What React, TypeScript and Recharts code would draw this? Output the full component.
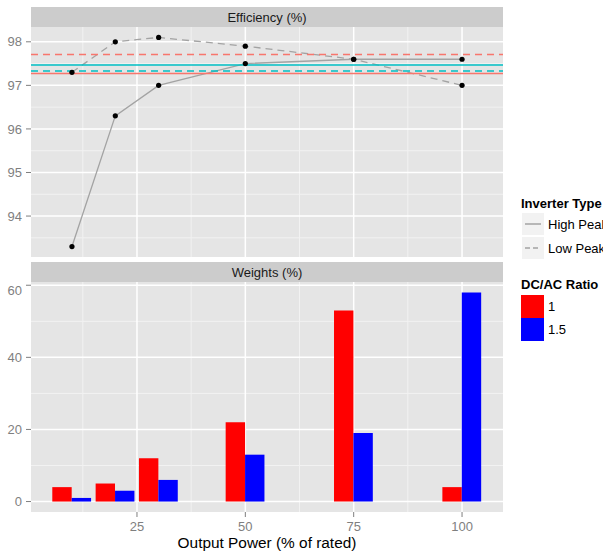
import React from 'react';
import { ComposedChart, Line, Bar, XAxis, YAxis, CartesianGrid, ReferenceLine } from 'recharts';

// x positions (% of rated output power)
const outputPower = [10, 20, 30, 50, 75, 100];

// efficiency curves (%)
const highPeakEff = [93.3, 96.3, 97.0, 97.5, 97.6, 97.6];
const lowPeakEff = [97.3, 98.0, 98.1, 97.9, 97.6, 97.0];

// weighted efficiency per DC/AC ratio [1, 1.5]
const avgHighPeak = [97.27, 97.47];
const avgLowPeak = [97.71, 97.33];

// weights (%) per DC/AC ratio
const weightsRatio1 = [4, 5, 12, 22, 53, 4];
const weightsRatio15 = [1, 3, 6, 13, 19, 58];

const powerTicks = [25, 50, 75, 100];
const powerMinor = [12.5, 37.5, 62.5, 87.5];
const effTicks = [94, 95, 96, 97, 98];
const effMinor = [93.5, 94.5, 95.5, 96.5, 97.5];
const weightTicks = [0, 20, 40, 60];
const weightMinor = [10, 30, 50];

const ratioColors = ['#F8766D', '#00BFC4'];
const lineGrey = '#A3A3A3';
const axisGrey = '#7F7F7F';
const font = '"Liberation Sans", Arial, Helvetica, sans-serif';

const effData = outputPower.map((p, i) => ({ power: p, high: highPeakEff[i], low: lowPeakEff[i] }));
const weightData = outputPower.map((p, i) => ({ power: p, r1: weightsRatio1[i], r15: weightsRatio15[i] }));

const xDomain = [0.55, 109.45];
const panelW = 503;
const panelH = 230;

const Strip = ({ top, text }: { top: number; text: string }) => (
  <div
    style={{
      position: 'absolute', left: 31, top, width: 472, height: 20, background: '#CCCCCC',
      display: 'flex', alignItems: 'center', justifyContent: 'center', fontSize: 13, color: '#1A1A1A',
    }}
  >
    {text}
  </div>
);

const LineKey = ({ top, dashed }: { top: number; dashed?: boolean }) => (
  <svg style={{ position: 'absolute', left: 522, top }} width={22} height={22}>
    <rect x={0} y={0} width={22} height={22} fill="#F2F2F2" />
    <line x1={3} x2={19} y1={11} y2={11} stroke={lineGrey} strokeWidth={1.5} strokeDasharray={dashed ? '5 3' : undefined} />
  </svg>
);

const Label = ({ left, top, text, bold }: { left: number; top: number; text: string; bold?: boolean }) => (
  <div style={{ position: 'absolute', left, top: top - 8, height: 16, lineHeight: '16px', fontSize: 13, fontWeight: bold ? 'bold' : 'normal', color: '#000', whiteSpace: 'nowrap' }}>
    {text}
  </div>
);

export default function App() {
  return (
    <div style={{ position: 'absolute', left: 0, top: 0, width: 603, height: 552, overflow: 'hidden', background: '#fff', fontFamily: font }}>
      <Strip top={7} text="Efficiency (%)" />
      <div style={{ position: 'absolute', left: 0, top: 27 }}>
        <ComposedChart width={panelW} height={panelH} data={effData} margin={{ top: 0, right: 0, bottom: 0, left: 0 }}>
          <CartesianGrid fill="#E5E5E5" stroke="#F2F2F2" strokeWidth={1} horizontalValues={effMinor} verticalValues={powerMinor} />
          <CartesianGrid stroke="#FFFFFF" strokeWidth={1.5} horizontalValues={effTicks} verticalValues={powerTicks} />
          <XAxis type="number" dataKey="power" domain={xDomain} allowDataOverflow hide ticks={powerTicks} />
          <YAxis
            type="number" width={31} domain={[93.06, 98.34]} allowDataOverflow ticks={effTicks}
            axisLine={false} tickSize={5} tickMargin={4} tickLine={{ stroke: axisGrey }}
            tick={{ fill: axisGrey, fontSize: 13, fontFamily: font }}
          />
          <Line dataKey="high" stroke={lineGrey} strokeWidth={1.3} dot={{ r: 2.6, fill: '#000', stroke: 'none' }} activeDot={false} isAnimationActive={false} />
          <Line dataKey="low" stroke={lineGrey} strokeWidth={1.3} strokeDasharray="7 5" dot={{ r: 2.6, fill: '#000', stroke: 'none' }} activeDot={false} isAnimationActive={false} />
          {avgHighPeak.map((v, i) => (
            <ReferenceLine key={'h' + i} y={v} stroke={ratioColors[i]} strokeWidth={1.5} />
          ))}
          {avgLowPeak.map((v, i) => (
            <ReferenceLine key={'l' + i} y={v} stroke={ratioColors[i]} strokeWidth={1.5} strokeDasharray="7 5" />
          ))}
        </ComposedChart>
      </div>

      <Strip top={262} text="Weights (%)" />
      <div style={{ position: 'absolute', left: 0, top: 282 }}>
        <ComposedChart width={panelW} height={panelH + 40} data={weightData} barGap={0} margin={{ top: 0, right: 0, bottom: 0, left: 0 }}>
          <CartesianGrid fill="#E5E5E5" stroke="#F2F2F2" strokeWidth={1} horizontalValues={weightMinor} verticalValues={powerMinor} />
          <CartesianGrid stroke="#FFFFFF" strokeWidth={1.5} horizontalValues={weightTicks} verticalValues={powerTicks} />
          <XAxis
            type="number" dataKey="power" domain={xDomain} allowDataOverflow ticks={powerTicks} height={40}
            axisLine={false} tickSize={5} tickMargin={5} tickLine={{ stroke: axisGrey }}
            tick={{ fill: axisGrey, fontSize: 13, fontFamily: font }}
          />
          <YAxis
            type="number" width={31} domain={[-2.9, 60.9]} allowDataOverflow ticks={weightTicks}
            axisLine={false} tickSize={5} tickMargin={4} tickLine={{ stroke: axisGrey }}
            tick={{ fill: axisGrey, fontSize: 13, fontFamily: font }}
          />
          <Bar dataKey="r1" fill="#FF0000" barSize={19.4} isAnimationActive={false} />
          <Bar dataKey="r15" fill="#0000FF" barSize={19.4} isAnimationActive={false} />
        </ComposedChart>
      </div>
      <div style={{ position: 'absolute', left: 31, width: 472, top: 533, height: 20, lineHeight: '20px', textAlign: 'center', fontSize: 15.4, color: '#000' }}>
        Output Power (% of rated)
      </div>

      <Label left={521} top={204} text="Inverter Type" bold />
      <LineKey top={213} />
      <LineKey top={237} dashed />
      <Label left={548} top={225} text="High Peak" />
      <Label left={548} top={249} text="Low Peak" />

      <Label left={521} top={285} text="DC/AC Ratio" bold />
      <div style={{ position: 'absolute', left: 521, top: 295, width: 23, height: 23, background: '#FF0000' }} />
      <div style={{ position: 'absolute', left: 521, top: 318, width: 23, height: 23, background: '#0000FF' }} />
      <Label left={548} top={307} text="1" />
      <Label left={548} top={330} text="1.5" />
    </div>
  );
}
